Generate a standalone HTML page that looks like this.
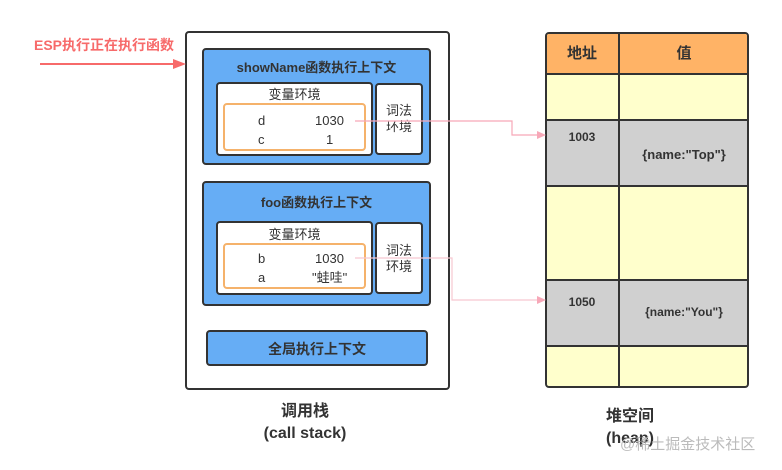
<!DOCTYPE html>
<html><head><meta charset="utf-8"><style>
body{margin:0;width:782px;height:470px;background:#fff;position:relative;overflow:hidden;font-family:"Liberation Sans","Noto Sans CJK SC",sans-serif;color:#333}
.a{position:absolute;box-sizing:border-box}
.blue{background:#66adf5;border:2px solid #333;border-radius:4px}
.w{background:#fff;border:2px solid #333;border-radius:4px}
.or{border:2px solid #f5b26b;border-radius:4px;background:#fff}
.t{position:absolute;white-space:nowrap;text-align:center;line-height:16px}
.b{font-weight:bold}
</style></head><body>
<div class="t b" style="left:34px;top:37px;color:#f76a6a;font-size:14px">ESP执行正在执行函数</div>
<div class="a" style="left:185px;top:31px;width:265px;height:359px;border:2px solid #333;border-radius:4px;background:#fff"></div>
<!-- showName -->
<div class="a blue" style="left:202px;top:48px;width:229px;height:117px"></div>
<div class="t b" style="left:202px;top:60px;width:229px;font-size:13px">showName函数执行上下文</div>
<div class="a w" style="left:216px;top:82px;width:157px;height:74px"></div>
<div class="t" style="left:216px;top:87px;width:157px;font-size:13px">变量环境</div>
<div class="a or" style="left:223px;top:103px;width:143px;height:48px"></div>
<div class="t" style="left:258px;top:113px;font-size:13px">d</div>
<div class="t" style="left:315px;top:113px;font-size:13px">1030</div>
<div class="t" style="left:258px;top:132px;font-size:13px">c</div>
<div class="t" style="left:326px;top:132px;font-size:13px">1</div>
<div class="a w" style="left:375px;top:83px;width:48px;height:72px"></div>
<div class="t" style="left:375px;top:103px;width:48px;font-size:13px;line-height:16px">词法<br>环境</div>
<!-- foo -->
<div class="a blue" style="left:202px;top:181px;width:229px;height:125px"></div>
<div class="t b" style="left:202px;top:195px;width:229px;font-size:13px">foo函数执行上下文</div>
<div class="a w" style="left:216px;top:221px;width:157px;height:74px"></div>
<div class="t" style="left:216px;top:227px;width:157px;font-size:13px">变量环境</div>
<div class="a or" style="left:223px;top:243px;width:143px;height:46px"></div>
<div class="t" style="left:258px;top:251px;font-size:13px">b</div>
<div class="t" style="left:315px;top:251px;font-size:13px">1030</div>
<div class="t" style="left:258px;top:270px;font-size:13px">a</div>
<div class="t" style="left:312px;top:270px;font-size:13px">"蛙哇"</div>
<div class="a w" style="left:375px;top:222px;width:48px;height:72px"></div>
<div class="t" style="left:375px;top:243px;width:48px;font-size:13px;line-height:16px">词法<br>环境</div>
<!-- global -->
<div class="a blue" style="left:206px;top:330px;width:222px;height:36px"></div>
<div class="t b" style="left:206px;top:341px;width:222px;font-size:14px">全局执行上下文</div>
<div class="t b" style="left:250px;top:401px;width:110px;font-size:16px;line-height:22px">调用栈<br>(call stack)</div>
<!-- heap -->
<div class="a" style="left:545px;top:32px;width:204px;height:356px;border:2px solid #333;border-radius:4px;background:#ffffcc;overflow:hidden">
 <div class="a" style="left:0;top:0;width:200px;height:41px;background:#ffb366;border-bottom:2px solid #333"></div>
 <div class="a" style="left:0;top:85px;width:200px;height:68px;background:#d0d0d0;border-top:2px solid #333;border-bottom:2px solid #333"></div>
 <div class="a" style="left:0;top:245px;width:200px;height:68px;background:#d0d0d0;border-top:2px solid #333;border-bottom:2px solid #333"></div>
 <div class="a" style="left:71px;top:0;width:2px;height:356px;background:#333"></div>
</div>
<div class="t b" style="left:546px;top:46px;width:72px;font-size:15px">地址</div>
<div class="t b" style="left:620px;top:46px;width:128px;font-size:15px">值</div>
<div class="t b" style="left:546px;top:129px;width:72px;font-size:12px">1003</div>
<div class="t b" style="left:620px;top:147px;width:128px;font-size:13px">{name:"Top"}</div>
<div class="t b" style="left:546px;top:294px;width:72px;font-size:12px">1050</div>
<div class="t b" style="left:620px;top:304px;width:128px;font-size:12px">{name:"You"}</div>
<div class="t b" style="left:580px;top:406px;width:100px;font-size:16px;line-height:22px">堆空间<br>(heap)</div>
<div class="t" style="left:620px;top:437px;font-size:15px;color:#bbb">@稀土掘金技术社区</div>
<svg class="a" style="left:0;top:0" width="782" height="470">
<line x1="40" y1="64" x2="175" y2="64" stroke="#f76a6a" stroke-width="2"/>
<polygon points="173,59 186,64 173,69" fill="#f76a6a"/>
<polyline points="355,121 512,121 512,135 538,135" fill="none" stroke="#f7a8b8" stroke-width="1.2"/>
<polygon points="537,131 546,135 537,139" fill="#f7a8b8"/>
<polyline points="355,258 452,258 452,300 538,300" fill="none" stroke="#f7c8d0" stroke-width="1.2"/>
<polygon points="537,296 546,300 537,304" fill="#f7a8b8"/>
</svg>
</body></html>
